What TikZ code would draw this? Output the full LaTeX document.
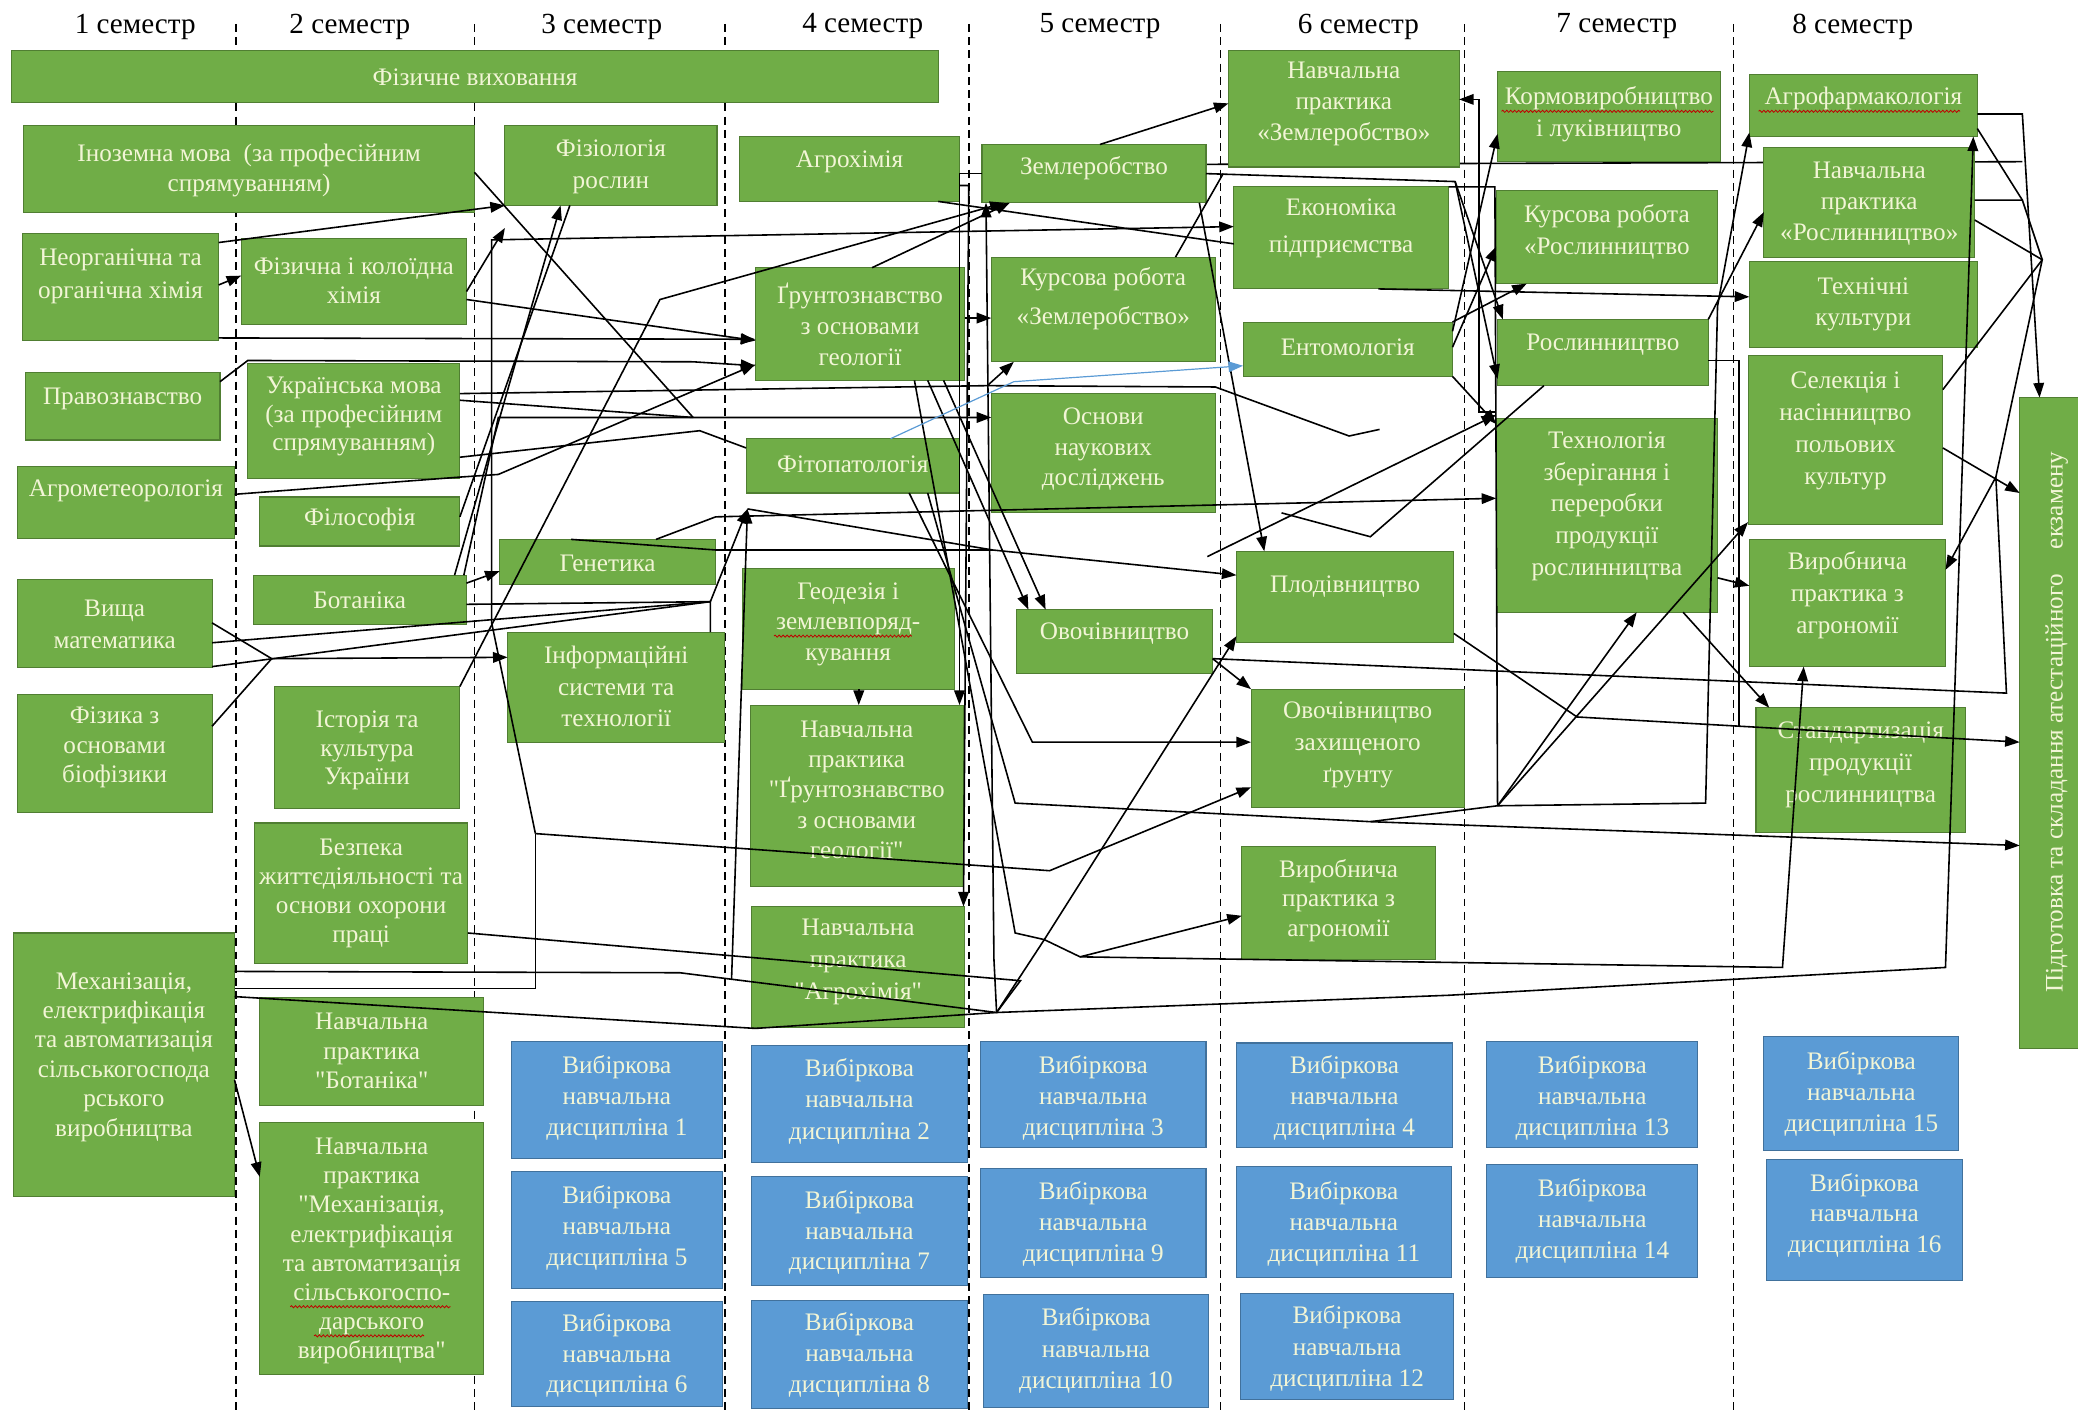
\documentclass[tikz,border=0pt]{standalone}
\usepackage{fontspec}
\setmainfont{Liberation Serif}
\usetikzlibrary{arrows.meta,decorations.pathmorphing}
\definecolor{gfill}{HTML}{70AD47}
\definecolor{gdraw}{HTML}{507E32}
\definecolor{bfill}{HTML}{5B9BD5}
\definecolor{bdraw}{HTML}{41719C}
\definecolor{txtc}{RGB}{242,245,214}
\definecolor{linkblue}{HTML}{5B9BD5}
\pgfdeclarelayer{bg}
\pgfsetlayers{bg,main}
\newcommand{\dq}{\textquotedbl}
\tikzset{
  gbox/.style={draw=gdraw, fill=gfill, line width=0.8pt, inner sep=0pt, outer sep=0pt},
  bbox/.style={draw=bdraw, fill=bfill, line width=0.8pt, inner sep=0pt, outer sep=0pt},
  btxt/.style={text=txtc, align=center, inner sep=0pt},
  conn/.style={line width=1.2pt, black},
  arr/.style={conn, -{Triangle[length=11pt,width=8pt]}},
  semdash/.style={line width=1.1pt, dash pattern=on 6pt off 4pt},
  hdr/.style={font=\fontsize{22}{26}\selectfont, inner sep=0pt},
  squig/.style={red!75!black, line width=0.6pt, decorate, decoration={snake, amplitude=0.8pt, segment length=3pt}}
}
\newcommand{\mybox}[9]{%
  \node[#1, minimum width={(#5-#3)*1pt}, minimum height={(#6-#4)*1pt}] (#2) at ({(#3+#5)/2},{(#4+#6)/2}) {};
  \node[btxt, font=\fontsize{19}{#8}\selectfont] (#2t) at ({(#3+#5)/2},#7) {#9};
}
\begin{document}
\begin{tikzpicture}[x=1pt,y=-1pt]
\useasboundingbox (0,0) rectangle (1568,1068);
\clip (0,0) rectangle (1568,1068);

% headers
\node[hdr] (h1) at (102,20) {1 семестр};
\node[hdr] (h2) at (264,20) {2 семестр};
\node[hdr] (h3) at (454,20) {3 семестр};
\node[hdr] (h4) at (651,20) {4 семестр};
\node[hdr] (h5) at (830,20) {5 семестр};
\node[hdr] (h6) at (1025,20) {6 семестр};
\node[hdr] (h7) at (1220,20) {7 семестр};
\node[hdr] (h8) at (1398,20) {8 семестр};

% column 1
\mybox{gbox}{fizvyh}{9}{38}{708}{77}{58}{23}{Фізичне виховання}
\mybox{gbox}{inoz}{18}{95}{358}{160}{128.5}{23}{Іноземна мова\ \ (за професійним\\спрямуванням)}
\mybox{gbox}{neorg}{17}{176}{165}{257}{208.5}{25}{Неорганічна та\\органічна хімія}
\mybox{gbox}{prav}{19}{281}{166}{332}{301}{23}{Правознавство}
\mybox{gbox}{agromet}{13}{352}{177}{406}{370}{23}{Агрометеорологія}
\mybox{gbox}{vyshch}{13}{437}{160}{504}{471}{24}{Вища\\математика}
\mybox{gbox}{fizyka}{13}{524}{160}{613}{564}{22}{Фізика з\\основами\\біофізики}
\mybox{gbox}{mech}{10}{704}{177}{903}{797.5}{22.2}{Механізація,\\електрифікація\\та автоматизація\\сільськогоспода\\рського\\виробництва}

% column 2
\mybox{gbox}{fizchem}{182}{180}{352}{245}{212}{22}{Фізична і колоїдна\\хімія}
\mybox{gbox}{ukr}{187}{274}{347}{361}{314.5}{21.5}{Українська мова\\(за професійним\\спрямуванням)}
\mybox{gbox}{filos}{196}{375}{347}{412}{392}{23}{Філософія}
\mybox{gbox}{botan}{191}{434}{352}{471}{453}{23}{Ботаніка}
\mybox{gbox}{hist}{207}{518}{347}{610}{566.5}{21.5}{Історія та\\культура\\України}
\mybox{gbox}{bzhd}{192}{621}{353}{727}{674}{22}{Безпека\\життєдіяльності та\\основи охорони\\праці}
\mybox{gbox}{npbot}{196}{753}{365}{834}{793}{22}{Навчальна\\практика\\\dq Ботаніка\dq}
\mybox{gbox}{npmech}{196}{847}{365}{1037}{944}{22}{Навчальна\\практика\\\dq Механізація,\\електрифікація\\та автоматизація\\сільськогоспо-\\дарського\\виробництва\dq}

% column 3
\mybox{gbox}{fiziol}{381}{95}{541}{155}{126}{24}{Фізіологія\\рослин}
\mybox{gbox}{genet}{377}{407}{540}{441}{425}{23}{Генетика}
\mybox{gbox}{inform}{383}{477}{547}{560}{518}{24}{Інформаційні\\системи та\\технології}
\mybox{bbox}{v1}{386}{786}{545}{874}{828.5}{23.5}{Вибіркова\\навчальна\\дисципліна 1}
\mybox{bbox}{v5}{386}{884}{545}{972}{926.5}{23.5}{Вибіркова\\навчальна\\дисципліна 5}
\mybox{bbox}{v6}{386}{982}{545}{1061}{1023}{23}{Вибіркова\\навчальна\\дисципліна 6}

% column 4
\mybox{gbox}{agrochem}{558}{103}{724}{152}{122}{23}{Агрохімія}
\mybox{gbox}{grunt}{570}{202}{728}{287}{244.5}{23.5}{Ґрунтознавство\\з основами\\геології}
\mybox{gbox}{fitopat}{563}{331}{724}{372}{350}{23}{Фітопатологія}
\mybox{gbox}{geod}{560}{429}{720}{520}{471}{23}{Геодезія і\\землевпоряд-\\кування}
\mybox{gbox}{npgrunt}{566}{532}{727}{669}{596}{23}{Навчальна\\практика\\\dq Ґрунтознавство\\з основами\\геології\dq}
\mybox{gbox}{npagro}{567}{684}{728}{775}{726}{24}{Навчальна\\практика\\\dq Агрохімія\dq}
\mybox{bbox}{v2}{567}{789}{730}{877}{831}{24}{Вибіркова\\навчальна\\дисципліна 2}
\mybox{bbox}{v7}{567}{888}{730}{970}{930}{23}{Вибіркова\\навчальна\\дисципліна 7}
\mybox{bbox}{v8}{567}{981}{730}{1063}{1022.5}{23.5}{Вибіркова\\навчальна\\дисципліна 8}

% column 5
\mybox{gbox}{zemlerob}{741}{109}{910}{153}{127}{23}{Землеробство}
\mybox{gbox}{kurszem}{748}{194}{917}{273}{225.5}{29}{Курсова робота\\«Землеробство»}
\mybox{gbox}{osnovy}{748}{297}{917}{387}{339}{23}{Основи\\наукових\\досліджень}
\mybox{gbox}{ovoch}{767}{460}{915}{508}{478}{23}{Овочівництво}
\mybox{bbox}{v3}{740}{786}{910}{866}{828.5}{23.5}{Вибіркова\\навчальна\\дисципліна 3}
\mybox{bbox}{v9}{740}{882}{910}{964}{923.5}{23.5}{Вибіркова\\навчальна\\дисципліна 9}
\mybox{bbox}{v10}{742}{977}{912}{1062}{1019}{24}{Вибіркова\\навчальна\\дисципліна 10}

% column 6
\mybox{gbox}{npzem}{927}{38}{1101}{126}{78.5}{23.5}{Навчальна\\практика\\«Землеробство»}
\mybox{gbox}{econ}{931}{141}{1093}{218}{172}{28}{Економіка\\підприємства}
\mybox{gbox}{entom}{938}{243}{1096}{284}{262}{23}{Ентомологія}
\mybox{gbox}{plod}{933}{416}{1097}{485}{443}{23}{Плодівництво}
\mybox{gbox}{ozg}{944}{520}{1105}{609}{562}{24}{Овочівництво\\захищеного\\ґрунту}
\mybox{gbox}{vyrob6}{937}{639}{1083}{724}{679.5}{22.5}{Виробнича\\практика з\\агрономії}
\mybox{bbox}{v4}{933}{787}{1096}{866}{828.5}{23.5}{Вибіркова\\навчальна\\дисципліна 4}
\mybox{bbox}{v11}{933}{880}{1095}{964}{923.5}{23.5}{Вибіркова\\навчальна\\дисципліна 11}
\mybox{bbox}{v12}{936}{976}{1097}{1056}{1017.5}{23.5}{Вибіркова\\навчальна\\дисципліна 12}

% column 7
\mybox{gbox}{korm}{1130}{54}{1298}{122}{86}{24}{Кормовиробництво\\і луківництво}
\mybox{gbox}{kursros}{1129}{144}{1296}{214}{175}{24}{Курсова робота\\«Рослинництво}
\mybox{gbox}{roslyn}{1130}{241}{1289}{291}{260}{23}{Рослинництво}
\mybox{gbox}{tech}{1129}{316}{1296}{462}{382}{24}{Технологія\\зберігання і\\переробки\\продукції\\рослинництва}
\mybox{bbox}{v13}{1122}{786}{1281}{866}{828.5}{23.5}{Вибіркова\\навчальна\\дисципліна 13}
\mybox{bbox}{v14}{1122}{879}{1281}{964}{921.5}{23.5}{Вибіркова\\навчальна\\дисципліна 14}

% column 8
\mybox{gbox}{agrofarm}{1320}{56}{1492}{103}{74}{23}{Агрофармакологія}
\mybox{gbox}{nprosl}{1331}{111}{1490}{194}{153.5}{23.5}{Навчальна\\практика\\«Рослинництво»}
\mybox{gbox}{techcult}{1320}{197}{1492}{262}{229.5}{23}{Технічні\\культури}
\mybox{gbox}{selek}{1319}{268}{1466}{396}{325}{24}{Селекція і\\насінництво\\польових\\культур}
\mybox{gbox}{vyrob8}{1320}{407}{1468}{503}{449}{24}{Виробнича\\практика з\\агрономії}
\mybox{gbox}{stand}{1325}{534}{1483}{628}{577}{24}{Стандартизація\\продукції\\рослинництва}
\mybox{bbox}{v15}{1331}{782}{1478}{868}{825.5}{23.5}{Вибіркова\\навчальна\\дисципліна 15}
\mybox{bbox}{v16}{1333}{875}{1481}{966}{917}{23}{Вибіркова\\навчальна\\дисципліна 16}

% final attestation
\node[gbox, minimum width=62pt, minimum height=491pt] (atest) at (1555,545.5) {};
\node[btxt, font=\fontsize{19}{23}\selectfont, rotate=90] (atestt) at (1552,545) {Підготовка та складання атестаційного\ \ \ \ екзамену};

% spell-check squiggles
\draw[squig] (1133,84) -- (1293,84);
\draw[squig] (1327,84) -- (1479,84);
\draw[squig] (584,480) -- (688,480);
\draw[squig] (219,986) -- (340,986);
\draw[squig] (237,1008) -- (320,1008);

% background layer: semester separators and a hidden line
\begin{pgfonlayer}{bg}
\foreach \xx/\nm in {178/d1,358/d2,547/d3,731/d4,921/d5,1105/d6,1308/d7}{
  \draw[semdash] (\xx,18) coordinate (\nm a) -- (\xx,1066) coordinate (\nm b);
}
\coordinate (jR) at (1526,122);
\draw[conn] (zemlerob.east |- 0,124) -- (jR);
\end{pgfonlayer}

% junctions
\coordinate (jA) at (371,181);
\coordinate (jB) at (523,315);
\coordinate (jC) at (381,172);
\coordinate (jD) at (205,497);
\coordinate (jE) at (564,384);
\coordinate (jF) at (404,629);
\coordinate (jG) at (792,657);
\coordinate (jH) at (752,764);
\coordinate (jI) at (536,454);
\coordinate (jJ) at (552,739);
\coordinate (jK) at (911,420);
\coordinate (jL) at (788,709);
\coordinate (jM) at (815,722);
\coordinate (jN) at (1506,360);
\coordinate (jF2) at (1541,196);
\coordinate (jO) at (1034,620);
\coordinate (jP) at (1130,608);
\coordinate (jQ) at (745,291);
\coordinate (jS) at (1526,151);
\coordinate (jT) at (1098,137);
\coordinate (jU) at (967,387);
\coordinate (jV) at (1041,324);

% connectors, left part
\draw[arr] (neorg.east |- 0,183) -- (fiziol.south west);
\draw[arr] (neorg.east |- 0,215) -- (fizchem.west |- 0,208);
\draw[arr] (neorg.east |- 0,255) -- (grunt.west |- 0,256);
\draw[arr] (fizchem.east |- 0,226) -- (grunt.west |- 0,257);
\draw[arr] (fizchem.east |- 0,220) -- (jC);
\draw[conn] (inoz.east |- 0,130) -- (jB);
\draw[conn] (ukr.east |- 0,302) -- (jB);
\draw[arr] (botan.north -| 350,0) -- (376,315) -- (osnovy.west |- 0,315);
\draw[arr] (hist.north east) -- (498,226) -- (zemlerob.south -| 758,0);
\draw[arr] (agromet.east |- 0,373) -- (347,360) -- (376,358) -- (grunt.west |- 0,275);
\draw[arr] (prav.east |- 0,288) -- (187,272) -- (523,273) -- (grunt.west |- 0,276);
\draw[arr] (botan.east |- 0,440) -- (genet.west |- 0,431);
\draw[arr] (botan.north -| 343,0) -- (fiziol.south -| 423,0);
\draw[conn] (filos.east |- 0,390) -- (fiziol.south -| 430,0);
\draw[conn] (vyshch.east |- 0,470) -- (jD);
\draw[arr] (fizyka.east |- 0,548) -- (jD) -- (inform.west |- 0,496);
\draw[conn] (vyshch.east |- 0,485) -- (jI) -- (inform.north -| 536,0);
\draw[conn] (vyshch.east |- 0,503) -- (jI);
\draw[conn] (botan.east |- 0,456) -- (jI);
\draw[arr] (jI) -- (jE);
\draw[conn] (ukr.east |- 0,345) -- (528,325) -- (fitopat.west |- 0,338);
\draw[conn] (mech.east |- 0,746) -- (404,746) -- (jF);
\draw[arr] (jF) -- (371,470) -- (jA) -- (econ.west |- 0,171);
\draw[arr] (jF) -- (jG) -- (ozg.west |- 0,594);
\draw[conn] (mech.east |- 0,733) -- (513,734) -- (jH);
\draw[conn] (mech.east |- 0,752) -- (570,776) -- (jH);
\draw[conn] (bzhd.east |- 0,704) -- (770,740) -- (jH);
\draw[arr] (mech.east |- 0,815) -- (npmech.west |- 0,888);
\draw[arr] (jJ) -- (jE);

% connectors, middle part
\draw[arr] (jH) -- (jL) -- (jM) -- (1345,730) -- (vyrob8.south -| 1361,0);
\draw[arr] (jH) -- (1093,751) -- (1468,730) -- (agrofarm.south -| 1489,0);
\draw[arr] (jH) -- (750,724) -- (zemlerob.south -| 744,0);
\draw[arr] (zemlerob.west |- 0,131) -- (724,131) -- (npgrunt.north -| 724,0);
\draw[arr] (agrochem.east |- 0,140) -- (731,140) -- (npagro.north -| 727,0);
\draw[arr] (grunt.east |- 0,240) -- (kurszem.west |- 0,240);
\draw[arr] (ukr.east |- 0,297) -- (jQ) -- (kurszem.south -| 765,0);
\draw[conn] (jQ) -- (917,292) -- (1018,329) -- (jV);
\draw[arr] (genet.north -| 495,0) -- (540,390) -- (tech.west |- 0,376);
\draw[arr] (genet.north -| 431,0) -- (540,415) -- (749,415) -- (plod.west |- 0,434);
\draw[conn] (jE) -- (749,415);
\draw[arr] (fitopat.south -| 686,0) -- (779,560) -- (ozg.west |- 0,560);
\draw[arr] (fitopat.south -| 700,0) -- (766,606) -- (jO) -- (atest.west |- 0,638);
\draw[arr] (grunt.south -| 700,0) -- (ovoch.north -| 776,0);
\draw[arr] (grunt.south -| 712,0) -- (ovoch.north -| 789,0);
\draw[conn] (grunt.south -| 690,0) -- (766,704) -- (jL);
\draw[arr] (jL) -- (plod.west |- 0,480);
\draw[arr] (jM) -- (vyrob6.west |- 0,691);
\draw[arr] (ovoch.east |- 0,497) -- (ozg.north west);
\draw[conn] (ovoch.east |- 0,497) -- (1514,523) -- (jN);
\draw[arr] (geod.south -| 648,0) -- (npgrunt.north -| 648,0);
\draw[arr] (zemlerob.north -| 830,0) -- (npzem.west |- 0,78);
\draw[arr] (zemlerob.south -| 905,0) -- (plod.north -| 954,0);
\draw[conn] (kurszem.north -| 887,0) -- (923,131);
\draw[conn] (agrochem.south -| 708,0) -- (econ.west |- 0,184);
\draw[arr] (grunt.north -| 658,0) -- (zemlerob.south -| 762,0);
\draw[arr, linkblue, line width=0.9pt] (fitopat.north -| 672,0) -- (765,288) -- (entom.west |- 0,276);
\draw[arr] (jK) -- (tech.west |- 0,313);
\draw[conn] (roslyn.south -| 1165,0) -- (1034,405) -- (jU);

% connectors, right part
\draw[arr] (jN) -- (vyrob8.east |- 0,430);
\draw[conn] (nprosl.east |- 0,166) -- (jF2) -- (jN);
\draw[conn] (selek.east |- 0,294) -- (jF2);
\draw[arr] (selek.east |- 0,338) -- (atest.west |- 0,372);
\draw[arr] (agrofarm.east |- 0,86) -- (1526,86) -- (atest.north -| 1539,0);
\draw[conn] (agrofarm.east |- 0,97) -- (jS);
\draw[conn] (nprosl.east |- 0,151) -- (jS) -- (jF2);
\draw[arr] (plod.east |- 0,478) -- (1190,541) -- (atest.west |- 0,560);
\draw[arr] (tech.south -| 1270,0) -- (stand.north -| 1335,0);
\draw[arr] (tech.east |- 0,436) -- (vyrob8.west |- 0,442);
\draw[arr] (jO) -- (jP) -- (tech.south -| 1235,0);
\draw[arr] (jP) -- (selek.west |- 0,394);
\draw[arr] (jP) -- (1287,606) -- (1296,231) -- (agrofarm.west |- 0,100);
\draw[arr] (roslyn.north east) -- (nprosl.west |- 0,160);
\draw[conn] (roslyn.east |- 0,272) -- (1312,272) -- (1312,548);
\draw[arr] (econ.south -| 1040,0) -- (techcult.west |- 0,224);
\draw[arr] (entom.east |- 0,250) -- (korm.west |- 0,101);
\draw[arr] (entom.east |- 0,262) -- (kursros.west |- 0,186);
\draw[arr] (entom.north east) -- (kursros.south -| 1152,0);
\draw[arr] (zemlerob.east |- 0,131) -- (jT) -- (roslyn.north -| 1134,0);
\draw[arr] (jT) -- (roslyn.west |- 0,286);
\draw[arr] (tech.west |- 0,311) -- (1116,311) -- (1116,75) -- (npzem.east |- 0,75);
\draw[arr] (entom.south east) -- (tech.west |- 0,320);
\draw[conn] (econ.north east) -- (1128,141) -- (jP);
\end{tikzpicture}
\end{document}
